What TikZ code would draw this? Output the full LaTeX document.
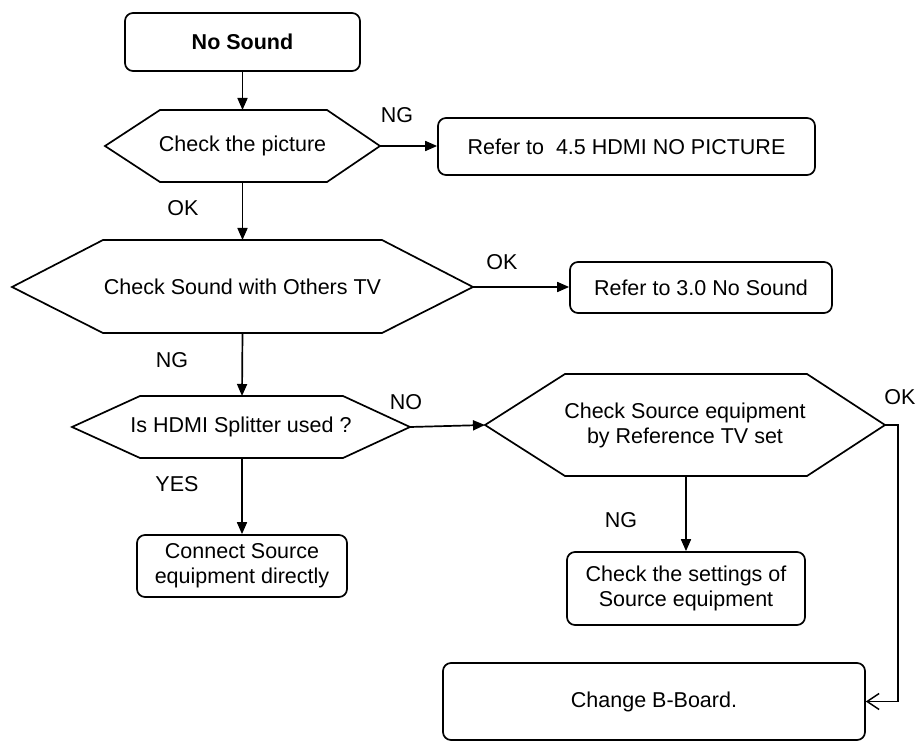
\documentclass[tikz,border=0pt]{standalone}
\usepackage{fontspec}
\setmainfont{Liberation Sans}
\usetikzlibrary{arrows.meta}
\begin{document}
\begin{tikzpicture}[x=1pt,y=-1pt,
  every node/.style={font=\fontsize{21.5}{25}\selectfont},
  box/.style={draw, line width=1.7pt, rounded corners=8pt, align=center, inner sep=0pt},
  hexa/.style={draw, line width=1.7pt, line join=miter},
  txt/.style={align=center, inner sep=0pt},
  lbl/.style={inner sep=0pt},
  arr/.style={line width=1.7pt, -{Triangle[length=12pt,width=10pt]}},
  oarr/.style={line width=1.7pt, -{Straight Barb[length=12pt,width=16pt,line width=1.4pt]}},
]
\useasboundingbox (0,0) rectangle (919,743);

% boxes
\node[box, minimum width=235pt, minimum height=58pt] (ns) at (242.5,42) {\bfseries No Sound};
\node[box, minimum width=377pt, minimum height=57pt] (r45) at (626.5,146.5) {Refer to~ 4.5 HDMI NO PICTURE};
\node[box, minimum width=262pt, minimum height=51pt] (r30) at (701,287.5) {Refer to 3.0 No Sound};
\node[box, minimum width=210pt, minimum height=62pt] (cs) at (242,566) {Connect Source\\equipment directly};
\node[box, minimum width=238pt, minimum height=73pt] (set) at (686,588.5) {Check the settings of\\Source equipment};
\node[box, minimum width=422pt, minimum height=77pt] (cb) at (654,701.5) {Change B-Board.};

% hexagon 1
\coordinate (h1w) at (105,146); \coordinate (h1e) at (380,146);
\coordinate (h1n) at (242.5,110); \coordinate (h1s) at (242.5,182);
\draw[hexa] (h1w) -- (160,110) -- (327,110) -- (h1e) -- (327,182) -- (160,182) -- cycle;
\node[txt] (h1) at (242.5,146) {Check the picture};

% hexagon 2
\coordinate (h2w) at (12,287); \coordinate (h2e) at (473,287);
\coordinate (h2n) at (242.5,240); \coordinate (h2s) at (242.5,333);
\draw[hexa] (h2w) -- (103,240) -- (382,240) -- (h2e) -- (382,333) -- (103,333) -- cycle;
\node[txt] (h2) at (242.5,287) {Check Sound with Others TV};

% hexagon 3
\coordinate (h3w) at (72,427); \coordinate (h3e) at (410,427);
\coordinate (h3n) at (242,396); \coordinate (h3s) at (242,458);
\draw[hexa] (h3w) -- (140,396) -- (343,396) -- (h3e) -- (343,458) -- (140,458) -- cycle;
\node[txt] (h3) at (241,427) {Is HDMI Splitter used ?};

% hexagon 4
\coordinate (h4w) at (485,425); \coordinate (h4e) at (885,425);
\coordinate (h4n) at (686,374); \coordinate (h4s) at (686,476);
\draw[hexa] (h4w) -- (565,374) -- (807,374) -- (h4e) -- (807,476) -- (565,476) -- cycle;
\node[txt] (h4) at (685,425) {Check Source equipment\\by Reference TV set};
\coordinate (bend) at (898,425);

% connectors
\draw[arr] (ns.south) -- (h1n);
\draw[arr] (h1e) -- (h1e -| r45.west);
\draw[arr] (h1s) -- (h2n);
\draw[arr] (h2e) -- (h2e -| r30.west);
\draw[arr] (h2s) -- (h3n);
\draw[arr] (h3e) -- (h4w);
\draw[arr] (h3s) -- (cs.north);
\draw[arr] (h4s) -- (set.north);
\draw[oarr] (h4e) -- (bend) |- (cb.east);

% labels
\node[lbl] (l1) at (397,115) {NG};
\node[lbl] (l2) at (183,208) {OK};
\node[lbl] (l3) at (502,262) {OK};
\node[lbl] (l4) at (172,360) {NG};
\node[lbl] (l5) at (406,402) {NO};
\node[lbl] (l6) at (177,484) {YES};
\node[lbl] (l7) at (900,397) {OK};
\node[lbl] (l8) at (621,520) {NG};
\end{tikzpicture}
\end{document}
